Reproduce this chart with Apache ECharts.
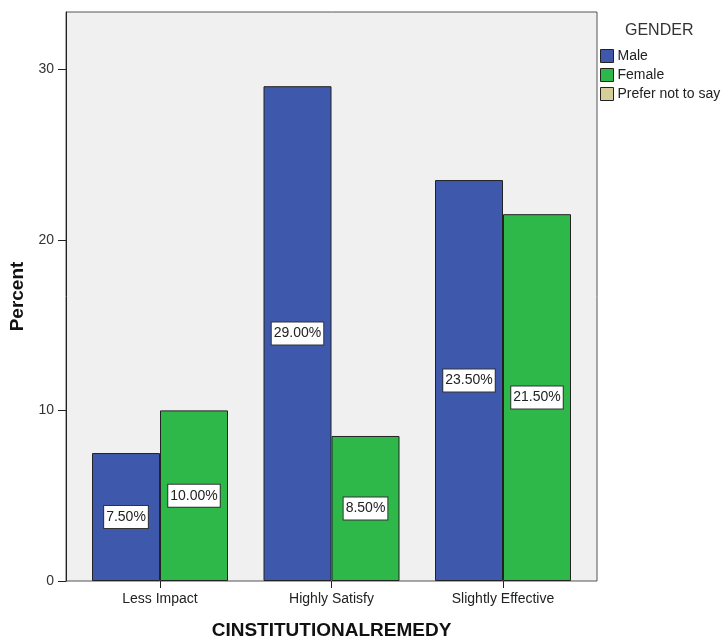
<!DOCTYPE html>
<html>
<head>
<meta charset="utf-8">
<script src="https://cdn.jsdelivr.net/npm/echarts@6/dist/echarts.min.js"></script>
<style>html,body{margin:0;padding:0;background:#fff}#c{width:722px;height:641px}</style>
</head>
<body>
<div id="c"></div>
<script>
var categories = ['Less Impact', 'Highly Satisfy', 'Slightly Effective'];
var maleValues = [7.5, 29.0, 23.5];
var femaleValues = [10.0, 8.5, 21.5];
var preferValues = [];
var yTicks = [0, 10, 20, 30];

var FONT = '"Liberation Sans", Arial, sans-serif';
var chart = echarts.init(document.getElementById('c'));
var labelCfg = {
  show: true,
  position: 'inside',
  formatter: function (p) { return p.value.toFixed(2) + '%'; },
  backgroundColor: '#ffffff',
  borderColor: '#333',
  borderWidth: 1,
  padding: [3, 2, 3, 2],
  lineHeight: 16,
  color: '#222',
  fontSize: 14,
  fontFamily: FONT
};
chart.setOption({
  animation: false,
  textStyle: { fontFamily: FONT },
  title: {
    text: 'GENDER', left: 620, top: 18,
    textStyle: { fontSize: 16, fontWeight: 'normal', color: '#333', fontFamily: FONT }
  },
  legend: {
    orient: 'vertical', left: 595, top: 44,
    itemWidth: 13, itemHeight: 13, itemGap: 5,
    icon: 'rect',
    textStyle: { fontSize: 14, color: '#222', fontFamily: FONT, padding: [0, 0, 0, -1] },
    itemStyle: { borderColor: '#222', borderWidth: 1 },
    data: ['Male', 'Female', 'Prefer not to say']
  },
  grid: [
    { left: 66, top: 12, width: 531, height: 569, outerBoundsMode: 'none', containLabel: false,
      show: true, backgroundColor: '#f0f0f0', borderColor: '#555', borderWidth: 1 },
    { left: 74.25, top: 12, width: 514.5, height: 569, outerBoundsMode: 'none', containLabel: false }
  ],
  xAxis: [
    { type: 'category', gridIndex: 0, data: [''], show: false },
    {
      type: 'category', gridIndex: 1, data: categories,
      axisLine: { show: false },
      axisTick: { show: true, alignWithLabel: true, length: 7, lineStyle: { color: '#222' } },
      axisLabel: { fontSize: 14, color: '#222', margin: 11, fontFamily: FONT },
      name: 'CINSTITUTIONALREMEDY', nameLocation: 'middle', nameGap: 40,
      nameTextStyle: { fontSize: 19, fontWeight: 'bold', color: '#111', fontFamily: FONT }
    }
  ],
  yAxis: [
    {
      type: 'value', gridIndex: 0, min: 0, max: 33.35, interval: 10,
      splitLine: { show: false },
      axisLine: { show: true, lineStyle: { color: '#222' } },
      axisTick: { show: true, length: 8, lineStyle: { color: '#222' }, customValues: yTicks },
      axisLabel: { fontSize: 14, color: '#333', margin: 12, fontFamily: FONT, customValues: yTicks },
      name: 'Percent', nameLocation: 'middle', nameRotate: 90, nameGap: 33,
      nameTextStyle: { fontSize: 19, fontWeight: 'bold', color: '#111', fontFamily: FONT }
    },
    { type: 'value', gridIndex: 1, min: 0, max: 33.35, interval: 10, show: false, splitLine: { show: false } }
  ],
  series: [
    {
      name: 'Male', type: 'bar', xAxisIndex: 1, yAxisIndex: 1, data: maleValues,
      barWidth: 68, barGap: '0%',
      itemStyle: { color: '#3e58ac', borderColor: '#222', borderWidth: 1 },
      label: labelCfg
    },
    {
      name: 'Female', type: 'bar', xAxisIndex: 1, yAxisIndex: 1, data: femaleValues,
      barWidth: 68, barGap: '0%',
      itemStyle: { color: '#2fb84a', borderColor: '#222', borderWidth: 1 },
      label: labelCfg
    },
    {
      name: 'Prefer not to say', type: 'bar', xAxisIndex: 0, yAxisIndex: 0, data: preferValues,
      itemStyle: { color: '#d4cf98', borderColor: '#222', borderWidth: 1 }
    }
  ]
});
</script>
</body>
</html>
